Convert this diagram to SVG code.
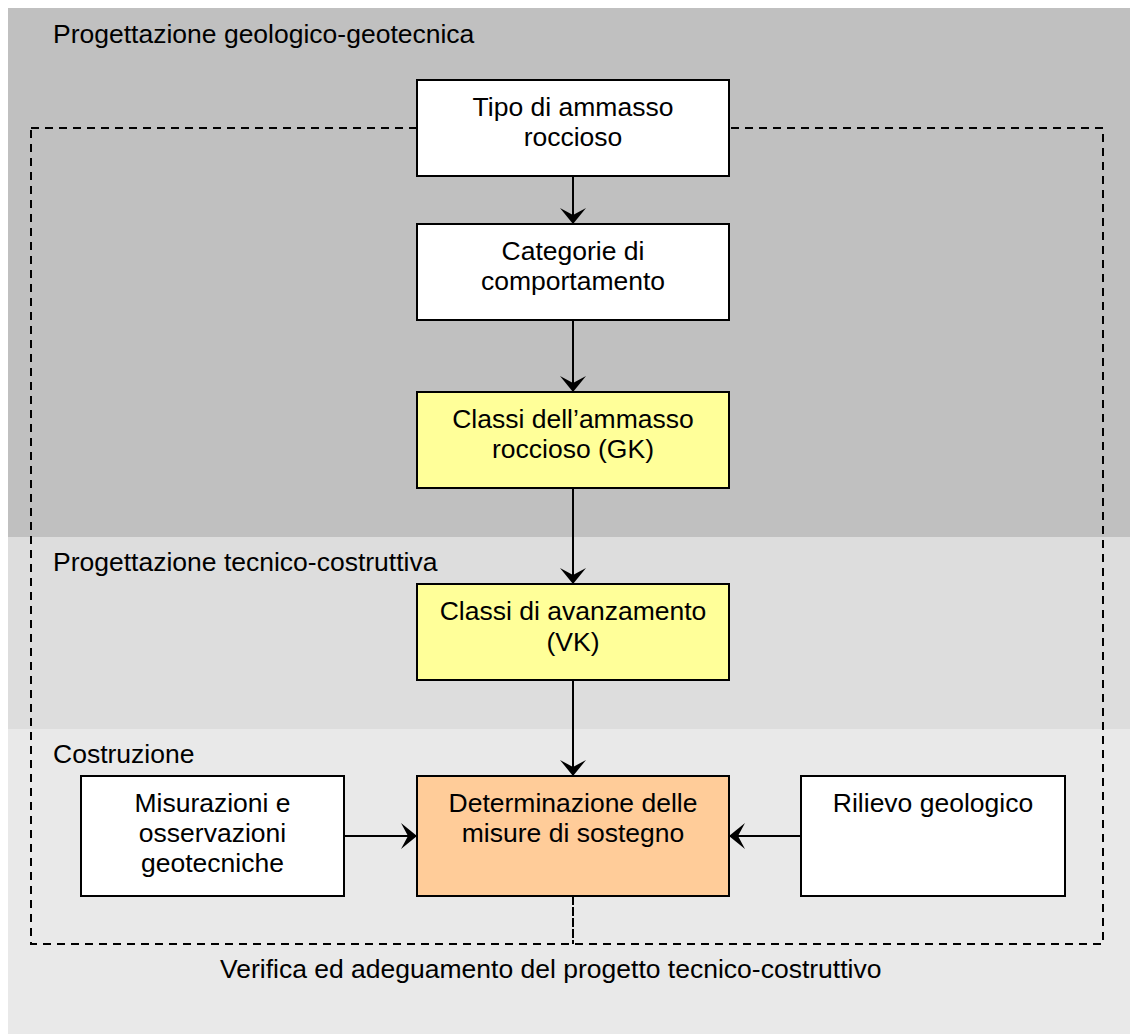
<svg xmlns="http://www.w3.org/2000/svg" width="1130" height="1034" viewBox="0 0 1130 1034">
<style>
text{font-family:"Liberation Sans",Arial,sans-serif;font-size:26.5px;fill:#000}
.c{text-anchor:middle}
.box{stroke:#000;stroke-width:2}
.ln{stroke:#000;stroke-width:2;fill:none}
.dash{stroke:#000;stroke-width:2;fill:none;stroke-dasharray:8 6}
</style>
<defs>
<marker id="ah" viewBox="0 0 16 26" refX="16" refY="13" markerWidth="16" markerHeight="26" markerUnits="userSpaceOnUse" orient="auto">
<path d="M16,13 L0,0 L7,13 L0,26 Z" fill="#000"/>
</marker>
</defs>
<g id="background">
<rect x="8" y="8" width="1122" height="529" fill="#C0C0C0"/>
<rect x="8" y="537" width="1122" height="192" fill="#DDDDDD"/>
<rect x="8" y="729" width="1122" height="305" fill="#E9E9E9"/>
<text x="53" y="43">Progettazione geologico-geotecnica</text>
<text x="53" y="571">Progettazione tecnico-costruttiva</text>
<text x="53" y="763">Costruzione</text>
</g>
<g id="feedback-loop">
<rect class="dash" x="31" y="128" width="1072" height="816"/>
<line x1="573" y1="896" x2="573" y2="944" stroke="#000" stroke-width="2" stroke-dasharray="9 2"/>
<text x="220" y="978">Verifica ed adeguamento del progetto tecnico-costruttivo</text>
</g>
<g id="connectors">
<line class="ln" x1="573" y1="176" x2="573" y2="224" marker-end="url(#ah)"/>
<line class="ln" x1="573" y1="320" x2="573" y2="392" marker-end="url(#ah)"/>
<line class="ln" x1="573" y1="488" x2="573" y2="584" marker-end="url(#ah)"/>
<line class="ln" x1="573" y1="680" x2="573" y2="776" marker-end="url(#ah)"/>
<line class="ln" x1="344" y1="836" x2="417" y2="836" marker-end="url(#ah)"/>
<line class="ln" x1="801" y1="836" x2="729" y2="836" marker-end="url(#ah)"/>
</g>
<g id="tipo">
<rect class="box" x="417" y="80" width="312" height="96" fill="#FFFFFF"/>
<text class="c" x="573" y="116">Tipo di ammasso</text>
<text class="c" x="573" y="146">roccioso</text>
</g>
<g id="categorie">
<rect class="box" x="417" y="224" width="312" height="96" fill="#FFFFFF"/>
<text class="c" x="573" y="260">Categorie di</text>
<text class="c" x="573" y="290">comportamento</text>
</g>
<g id="classi-gk">
<rect class="box" x="417" y="392" width="312" height="96" fill="#FFFF99"/>
<text class="c" x="573" y="428">Classi dell’ammasso</text>
<text class="c" x="573" y="458">roccioso (GK)</text>
</g>
<g id="classi-vk">
<rect class="box" x="417" y="584" width="312" height="96" fill="#FFFF99"/>
<text class="c" x="573" y="620">Classi di avanzamento</text>
<text class="c" x="573" y="651">(VK)</text>
</g>
<g id="misurazioni">
<rect class="box" x="81" y="776" width="263" height="120" fill="#FFFFFF"/>
<text class="c" x="212.5" y="812">Misurazioni e</text>
<text class="c" x="212.5" y="842">osservazioni</text>
<text class="c" x="212.5" y="872">geotecniche</text>
</g>
<g id="determinazione">
<rect class="box" x="417" y="776" width="312" height="120" fill="#FFCC99"/>
<text class="c" x="573" y="812">Determinazione delle</text>
<text class="c" x="573" y="842">misure di sostegno</text>
</g>
<g id="rilievo">
<rect class="box" x="801" y="776" width="264" height="120" fill="#FFFFFF"/>
<text class="c" x="933" y="812">Rilievo geologico</text>
</g>
</svg>
